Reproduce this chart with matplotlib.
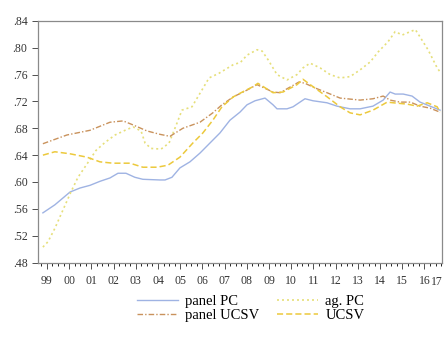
import matplotlib
matplotlib.use("Agg")
from matplotlib import pyplot as plt
from matplotlib.ticker import FixedLocator, FuncFormatter
import numpy as np

plt.rcParams['font.family'] = ['Liberation Serif', 'DejaVu Serif']

# panel PC (solid)
pc_x = [1998.82, 1999.36, 2000.04, 2000.49, 2000.94, 2001.39, 2001.84, 2002.20, 2002.56,
        2002.96, 2003.32, 2004.09, 2004.32, 2004.63, 2004.99, 2005.44, 2005.89, 2006.34,
        2006.79, 2007.24, 2007.69, 2008.01, 2008.37, 2008.82, 2009.18, 2009.36, 2009.81,
        2010.08, 2010.62, 2010.98, 2011.61, 2012.06, 2012.65, 2013.10, 2013.68, 2014.14,
        2014.45, 2014.68, 2015.04, 2015.44, 2015.80, 2016.25, 2016.70]
pc_y = [.554, .566, .585, .591, .595, .601, .606, .613, .613,
        .607, .604, .603, .603, .607, .621, .630, .643, .658,
        .673, .692, .704, .715, .721, .725, .715, .709, .709,
        .712, .724, .721, .718, .713, .709, .709, .713, .722,
        .734, .731, .731, .728, .719, .713, .707]

# ag. PC (dotted)
ag_x = [1998.82, 1999.05, 1999.36, 1999.72, 2000.08, 2000.40, 2000.85, 2001.21, 2001.62,
        2002.07, 2002.52, 2002.88, 2003.24, 2003.42, 2003.69, 2004.14, 2004.50, 2004.86,
        2005.08, 2005.53, 2005.98, 2006.30, 2006.75, 2007.40, 2007.71, 2008.01, 2008.46,
        2008.69, 2008.96, 2009.36, 2009.81, 2010.26, 2010.53, 2010.85, 2011.30, 2011.75,
        2012.20, 2012.65, 2013.10, 2013.56, 2013.92, 2014.36, 2014.68, 2015.00, 2015.36,
        2015.59, 2015.80, 2016.16, 2016.57, 2016.70]
ag_y = [.503, .511, .531, .558, .585, .607, .629, .647, .659,
        .670, .677, .682, .676, .658, .650, .649, .658, .688,
        .707, .712, .737, .755, .762, .775, .778, .789, .797,
        .795, .782, .760, .752, .760, .770, .777, .770, .760,
        .755, .757, .767, .779, .794, .809, .824, .819, .824,
        .827, .816, .797, .770, .764]

# panel UCSV (dash-dot)
pu_x = [1998.82, 1999.90, 2000.94, 2001.84, 2002.43, 2002.88, 2003.51, 2004.09, 2004.54,
        2005.12, 2005.89, 2006.47, 2006.88, 2007.40, 2007.90, 2008.46, 2009.18, 2009.50,
        2010.35, 2010.62, 2011.08, 2011.61, 2012.20, 2013.10, 2013.68, 2014.14, 2014.45,
        2014.90, 2015.36, 2015.80, 2016.25, 2016.70]
pu_y = [.657, .670, .677, .689, .691, .685, .676, .671, .668,
        .680, .689, .703, .715, .727, .735, .745, .734, .733,
        .749, .747, .740, .733, .725, .722, .724, .728, .722,
        .719, .719, .713, .710, .704]

# UCSV (dashed)
uc_x = [1998.82, 1999.36, 2000.04, 2000.80, 2001.39, 2001.97, 2002.74, 2003.32, 2003.96,
        2004.45, 2004.99, 2005.57, 2006.02, 2006.47, 2006.88, 2007.40, 2007.80, 2008.28,
        2008.50, 2009.18, 2009.63, 2010.26, 2010.53, 2010.98, 2011.61, 2012.20, 2012.65,
        2013.10, 2013.68, 2014.32, 2014.59, 2015.22, 2015.67, 2016.12, 2016.57, 2016.70]
uc_y = [.640, .645, .642, .637, .630, .628, .628, .622, .622,
        .625, .637, .658, .673, .692, .712, .727, .734, .742,
        .747, .733, .734, .745, .753, .742, .727, .712, .703,
        .700, .707, .719, .718, .716, .713, .718, .712, .704]

y_ticks = [.48, .52, .56, .60, .64, .68, .72, .76, .80, .84]
year_labels = ["99", "00", "01", "02", "03", "04", "05", "06", "07", "08",
               "09", "10", "11", "12", "13", "14", "15", "16"]

fig = plt.figure(figsize=(4.44, 3.37), dpi=100)
ax = fig.add_axes([0.0856, 0.221, 0.91, 0.717])

l_pc, = ax.plot(pc_x, pc_y, color='#9fb3e3', lw=1.0, ls='-')
l_ag, = ax.plot(ag_x, ag_y, color='#e6df7a', lw=1.2, ls=(0, (1.2, 1.8)))
l_pu, = ax.plot(pu_x, pu_y, color='#c9925c', lw=1.0, ls=(0, (4, 1.5, 1, 1.5)))
l_uc, = ax.plot(uc_x, uc_y, color='#ecc93c', lw=1.1, ls=(0, (4, 2)))

ax.set_xlim(1998.6, 2016.79)
ax.set_ylim(.48, .84)
ax.yaxis.set_major_locator(FixedLocator(y_ticks))
ax.yaxis.set_major_formatter(FuncFormatter(lambda v, p: ("%.2f" % v)[1:]))
years = np.arange(1999, 1999 + len(year_labels))
ax.set_xticks(years)
ax.set_xticklabels(year_labels)
ax.set_xticks(np.arange(1998.75, 2016.8, 0.25), minor=True)
# last year label sits at the right edge
fig.text(0.998, 0.221 - 0.04, "17", ha='right', va='top',
         fontsize=8.5, color='#333333')

ax.tick_params(axis='both', labelsize=8.5, colors='#333333', direction='out')
ax.tick_params(axis='x', which='major', length=4, width=0.6, pad=5)
ax.tick_params(axis='x', which='minor', length=2.5, width=0.6)
ax.tick_params(axis='y', length=4, width=0.6)
for s in ax.spines.values():
    s.set_color('#8a8a8a')
    s.set_linewidth(0.9)

fig.legend([l_pc, l_pu, l_ag, l_uc], ['panel PC', 'panel UCSV', 'ag. PC', 'UCSV'],
           loc='upper center', bbox_to_anchor=(0.565, 0.165), ncol=2,
           frameon=False, fontsize=10.5, handlelength=2.8,
           columnspacing=1.2, labelspacing=0.05, handletextpad=0.5)

fig.savefig("out.png", dpi=100)
